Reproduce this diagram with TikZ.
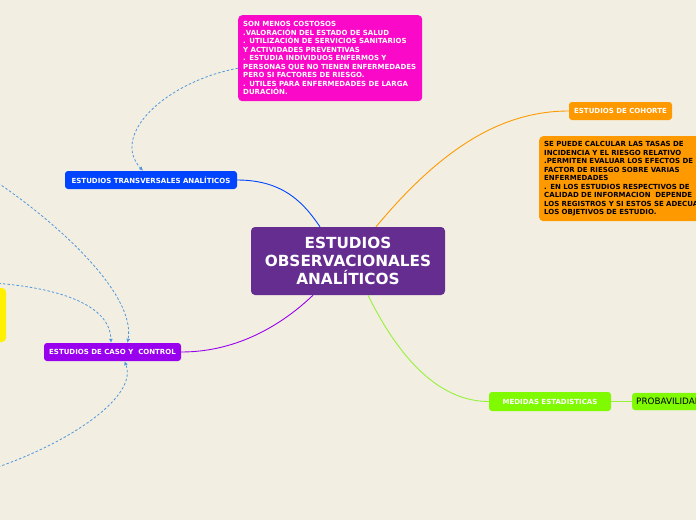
\documentclass[tikz,border=0pt]{standalone}
\usepackage{fontspec}
\setmainfont{DejaVu Sans}
\usetikzlibrary{arrows.meta}
\definecolor{bg}{RGB}{242,239,226}
\definecolor{cpurple}{RGB}{102,45,145}
\definecolor{cpink}{RGB}{250,10,200}
\definecolor{corange}{RGB}{255,153,0}
\definecolor{cblue}{RGB}{0,68,255}
\definecolor{cviolet}{RGB}{153,0,238}
\definecolor{cgreen}{RGB}{128,250,0}
\definecolor{cgreenline}{RGB}{150,240,60}
\definecolor{cyellow}{RGB}{255,240,0}
\definecolor{cdash}{RGB}{80,150,220}
\begin{document}
\begin{tikzpicture}[x=1pt,y=-1pt,
  central/.style={fill=cpurple,rounded corners=4pt,text=white,align=center,
    font=\bfseries\fontsize{15.3}{18}\selectfont,minimum width=194pt,minimum height=68pt,inner sep=0pt},
  label/.style={rounded corners=3pt,text=white,font=\bfseries\fontsize{7}{8}\selectfont,
    minimum height=18pt,inner xsep=5pt,inner ysep=0pt},
  para/.style={rounded corners=4pt,align=left,font=\bfseries\fontsize{7}{8.5}\selectfont,
    inner xsep=5pt,inner ysep=4.5pt,anchor=north west},
  link/.style={line width=0.9pt},
  dashlink/.style={cdash,line width=0.8pt,dash pattern=on 2.5pt off 2pt,-{Latex[length=4pt,width=4pt]}}
]
\useasboundingbox (0,0) rectangle (696,520);
\fill[bg] (0,0) rectangle (696,520);

% nodes
\node[central] (c) at (348,261) {ESTUDIOS\\OBSERVACIONALES\\ANALÍTICOS};
\node[para,fill=cpink,text=white,text width=174pt,minimum height=86pt] (pink) at (238,15)
 {SON MENOS COSTOSOS\\.VALORACIÓN DEL ESTADO DE SALUD\\. UTILIZACIÓN DE SERVICIOS SANITARIOS\\Y ACTIVIDADES PREVENTIVAS\\. ESTUDIA INDIVIDUOS ENFERMOS Y\\PERSONAS QUE NO TIENEN ENFERMEDADES\\PERO SI FACTORES DE RIESGO.\\. UTILES PARA ENFERMEDADES DE LARGA\\DURACIÓN.};
\node[para,fill=corange,text=black,text width=200pt,minimum height=85pt] (oro) at (539,136)
 {SE PUEDE CALCULAR LAS TASAS DE\\INCIDENCIA Y EL RIESGO RELATIVO\\.PERMITEN EVALUAR LOS EFECTOS DE\\FACTOR DE RIESGO SOBRE VARIAS\\ENFERMEDADES\\. EN LOS ESTUDIOS RESPECTIVOS DE\\CALIDAD DE INFORMACION\ \ DEPENDE\\LOS REGISTROS Y SI ESTOS SE ADECUAN\\LOS OBJETIVOS DE ESTUDIO.};
\node[label,fill=corange,minimum width=103pt] (coh) at (620.5,111) {ESTUDIOS DE COHORTE};
\node[label,fill=cblue,minimum width=172pt] (trans) at (151,180) {ESTUDIOS TRANSVERSALES ANALÍTICOS};
\node[label,fill=cviolet,minimum width=137pt] (caso) at (112.5,352) {ESTUDIOS DE CASO Y\ \ CONTROL};
\node[label,fill=cgreen,minimum width=122pt,minimum height=19pt] (med) at (550,401.5) {MEDIDAS ESTADISTICAS};
\node[rounded corners=3pt,fill=cgreen,draw=cgreenline,text=black,font=\fontsize{8.8}{10}\selectfont,
  anchor=west,minimum height=17pt,minimum width=90pt,inner xsep=4pt,align=left,text width=82pt] (prob) at (632,401.5) {PROBAVILIDAD};
\node[fill=cyellow,rounded corners=4pt,minimum width=30pt,minimum height=54pt,inner sep=0pt] (yel) at (-9,315) {};

% solid connectors
\draw[link,cblue] (trans.east) .. controls (285,180) and (305,205) .. ([xshift=-28pt]c.north);
\draw[link,corange] ([xshift=28pt]c.north) .. controls (440,150) and (500,111) .. (coh.west);
\draw[link,cviolet] (caso.east) .. controls (240,352) and (285,322) .. ([xshift=-35pt]c.south);
\draw[link,cgreenline] ([xshift=20pt]c.south) .. controls (400,360) and (440,401.5) .. (med.west);
\draw[link,cgreenline] (med.east) -- (prob.west);

% dashed connectors
\coordinate (s1) at (-2,183);
\coordinate (s2) at (-6,283);
\coordinate (s3) at (-2,467);
\draw[dashlink] ([yshift=-10pt]pink.west) .. controls (165,82) and (110,135) .. ([xshift=-8pt]trans.north);
\draw[dashlink] (s1) .. controls (60,225) and (136,295) .. ([xshift=15pt]caso.north);
\draw[dashlink] (s2) .. controls (60,288) and (110,305) .. ([xshift=-1.5pt]caso.north);
\draw[dashlink] (s3) .. controls (75,440) and (138,395) .. ([xshift=12pt]caso.south);
\end{tikzpicture}
\end{document}
